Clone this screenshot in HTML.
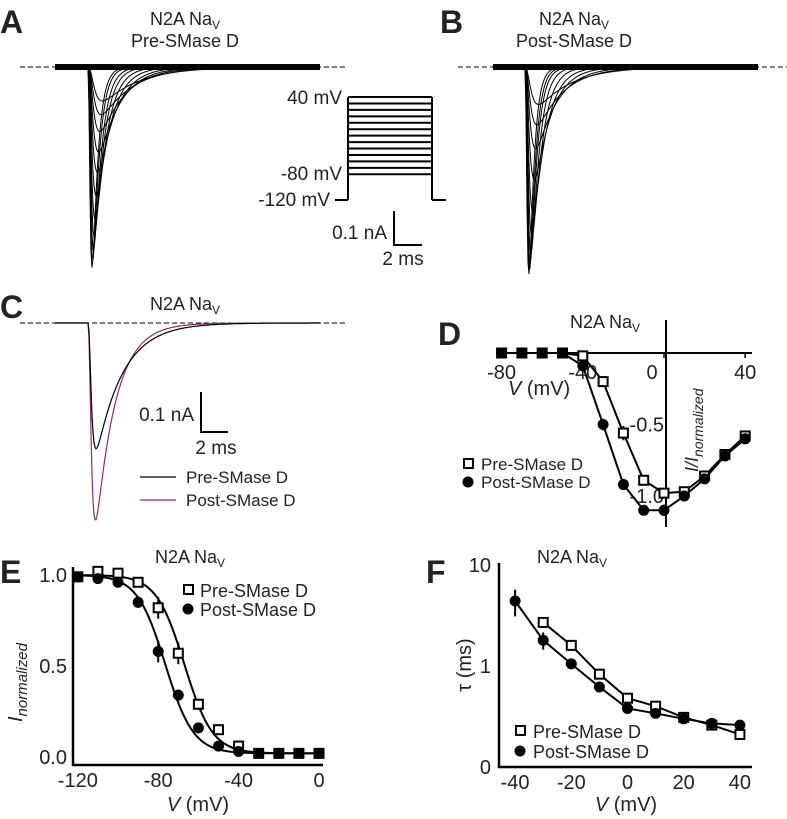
<!DOCTYPE html>
<html><head><meta charset="utf-8">
<style>
html,body{margin:0;padding:0;background:#fff;}
svg{display:block;font-family:"Liberation Sans",Arial,sans-serif;}
text{fill:#222;}
</style></head>
<body>
<svg id="fig" width="787" height="819" viewBox="0 0 787 819">
<g id="gA">
 <text x="0" y="33" font-size="32" font-weight="bold">A</text>
 <text x="185" y="25" font-size="18" text-anchor="middle">N2A Na<tspan font-size="12" dy="4">V</tspan></text>
 <text x="185" y="47" font-size="18" text-anchor="middle">Pre-SMase D</text>
 <line x1="20" y1="67" x2="348" y2="67" stroke="#000" stroke-width="1" stroke-dasharray="5,3"/>
 <g id="protocol"></g>
 <text x="342" y="104" font-size="19" text-anchor="end">40 mV</text>
 <text x="342" y="180" font-size="19" text-anchor="end">-80 mV</text>
 <text x="330" y="206" font-size="19" text-anchor="end">-120 mV</text>
 <path d="M394,211 V245 H422" fill="none" stroke="#000" stroke-width="2"/>
 <text x="387" y="239" font-size="19" text-anchor="end">0.1 nA</text>
 <text x="403" y="265" font-size="19" text-anchor="middle">2 ms</text>
</g>
<g id="gB">
 <text x="440" y="33" font-size="32" font-weight="bold">B</text>
 <text x="574" y="25" font-size="18" text-anchor="middle">N2A Na<tspan font-size="12" dy="4">V</tspan></text>
 <text x="574" y="47" font-size="18" text-anchor="middle">Post-SMase D</text>
 <line x1="458" y1="67" x2="787" y2="67" stroke="#000" stroke-width="1" stroke-dasharray="5,3"/>
</g>
<g id="gC">
 <text x="0" y="318" font-size="32" font-weight="bold">C</text>
 <text x="185" y="310" font-size="18" text-anchor="middle">N2A Na<tspan font-size="12" dy="4">V</tspan></text>
 <line x1="20" y1="323" x2="348" y2="323" stroke="#000" stroke-width="1" stroke-dasharray="5,3"/>
 <path d="M201,392 V432 H228" fill="none" stroke="#000" stroke-width="2"/>
 <text x="194" y="421" font-size="19" text-anchor="end">0.1 nA</text>
 <text x="216" y="454" font-size="19" text-anchor="middle">2 ms</text>
 <line x1="140" y1="477" x2="176" y2="477" stroke="#000" stroke-width="1.3"/>
 <text x="186" y="483" font-size="17">Pre-SMase D</text>
 <line x1="140" y1="500" x2="176" y2="500" stroke="#8e2c72" stroke-width="1.3"/>
 <text x="186" y="506" font-size="17">Post-SMase D</text>
</g>
<g id="gD">
 <text x="438" y="345" font-size="32" font-weight="bold">D</text>
 <text x="605" y="328" font-size="18" text-anchor="middle">N2A Na<tspan font-size="12" dy="4">V</tspan></text>
 <text x="508" y="395" font-size="20"><tspan font-style="italic">V</tspan> (mV)</text>
 <text transform="translate(698,472) rotate(-90)" font-size="18"><tspan font-style="italic">I/I</tspan><tspan font-style="italic" font-size="14" dy="5">normalized</tspan></text>
 <rect x="464" y="459" width="9" height="9" fill="#fff" stroke="#000" stroke-width="2"/>
 <text x="481" y="470" font-size="17">Pre-SMase D</text>
 <circle cx="468" cy="482" r="5.5" fill="#000"/>
 <text x="481" y="488" font-size="17">Post-SMase D</text>
</g>
<g id="gE">
 <text x="0" y="583" font-size="32" font-weight="bold">E</text>
 <text x="190" y="563" font-size="18" text-anchor="middle">N2A Na<tspan font-size="12" dy="4">V</tspan></text>
 <text x="198" y="811" font-size="20" text-anchor="middle"><tspan font-style="italic">V</tspan> (mV)</text>
 <text transform="translate(22,722) rotate(-90)" font-size="20"><tspan font-style="italic">I</tspan><tspan font-style="italic" font-size="15" dy="5">normalized</tspan></text>
 <rect x="184" y="585" width="9" height="9" fill="#fff" stroke="#000" stroke-width="2"/>
 <text x="200" y="597" font-size="18">Pre-SMase D</text>
 <circle cx="188" cy="609" r="5.5" fill="#000"/>
 <text x="200" y="616" font-size="18">Post-SMase D</text>
</g>
<g id="gF">
 <text x="426" y="583" font-size="32" font-weight="bold">F</text>
 <text x="572" y="563" font-size="18" text-anchor="middle">N2A Na<tspan font-size="12" dy="4">V</tspan></text>
 <text x="626" y="811" font-size="20" text-anchor="middle"><tspan font-style="italic">V</tspan> (mV)</text>
 <text transform="translate(471,665) rotate(-90)" font-size="20" text-anchor="middle">τ (ms)</text>
 <rect x="516" y="726" width="9" height="9" fill="#fff" stroke="#000" stroke-width="2"/>
 <text x="533" y="738" font-size="18">Pre-SMase D</text>
 <circle cx="520" cy="751" r="5.5" fill="#000"/>
 <text x="533" y="758" font-size="18">Post-SMase D</text>
</g>
</svg>
<script>
// ---- Panel D data (I-V) ----
const ivVoltages = [-80,-70,-60,-50,-40,-30,-20,-10,0,10,20,30,40];
const ivPre = [0,0,0,0,-0.02,-0.2,-0.56,-0.89,-0.98,-0.97,-0.86,-0.71,-0.58];
const ivPost = [0,0,0,0,-0.09,-0.5,-0.92,-1.1,-1.1,-1.0,-0.88,-0.72,-0.6];
const ivPreErr = [0,0,0,0,0.01,0.02,0.05,0.02,0.02,0.02,0.02,0.02,0.02];
const ivPostErr = [0,0,0,0,0.02,0.04,0.02,0.02,0.04,0.02,0.02,0.02,0.02];
const ivXTicks = [-80,-40,0,40];
const ivYTicks = [-0.5,-1.0];
// ---- Panel E data (inactivation) ----
const inVoltages = [-120,-110,-100,-90,-80,-70,-60,-50,-40,-30,-20,-10,0];
const inPre = [0.99,1.02,1.01,0.96,0.82,0.57,0.29,0.15,0.06,0.02,0.02,0.02,0.02];
const inPost = [0.99,0.98,0.96,0.85,0.58,0.34,0.16,0.06,0.03,0.02,0.02,0.02,0.02];
const inPreErr = [0.01,0.01,0.01,0.01,0.06,0.06,0.02,0.02,0.01,0.01,0.01,0.01,0.01];
const inPostErr = [0.01,0.01,0.01,0.03,0.06,0.03,0.02,0.01,0.01,0.01,0.01,0.01,0.01];
const fitPre = [-67,7.0,0.02];   // V1/2, k, offset
const fitPost = [-76.5,7.0,0.02];
const inXTicks = [-120,-80,-40,0];
const inYTicks = [0,0.5,1.0];
// ---- Panel F data (tau) ----
const tauPreV = [-30,-20,-10,0,10,20,30,40];
const tauPre = [2.7,1.6,0.83,0.48,0.4,0.31,0.26,0.21];
const tauPostV = [-40,-30,-20,-10,0,10,20,30,40];
const tauPost = [4.4,1.8,1.05,0.62,0.38,0.34,0.3,0.27,0.26];
const tauPostErr = [1.3,0.35,0.08,0.05,0.03,0.02,0.02,0.02,0.02];
const tauXTicks = [-40,-20,0,20,40];
const tauYTicks = [0.1,1,10];
const tauYLabels = ["0","1","10"];
// ---- Traces (amplitude in nA, decay tau in ms) ----
const traceAmpA = [0.59,0.57,0.54,0.5,0.45,0.38,0.31,0.25,0.19,0.14,0.1];
const traceTauA = [0.4,0.45,0.55,0.65,0.8,1.0,1.25,1.5,1.8,2.2,2.6];
const traceAmpB = [0.61,0.6,0.58,0.55,0.5,0.43,0.33,0.24,0.17,0.11];
const traceTauB = [0.35,0.4,0.45,0.55,0.7,0.9,1.15,1.5,1.9,2.4];
const traceAmpC = [0.37,0.58];
const traceTauC = [1.9,1.4];
const protocolLevels = [40,30,20,10,0,-10,-20,-30,-40,-50,-60,-70,-80];

const NS="http://www.w3.org/2000/svg";
function mk(tag,attrs,parent){const e=document.createElementNS(NS,tag);for(const k in attrs)e.setAttribute(k,attrs[k]);parent.appendChild(e);return e;}
const gA=document.getElementById('gA'),gB=document.getElementById('gB'),gC=document.getElementById('gC'),gD=document.getElementById('gD'),gE=document.getElementById('gE'),gF=document.getElementById('gF');

const prot=document.getElementById('protocol');
const vY=v=>200-(v+120)*(103/160);
let base=mk('path',{d:`M335,${vY(-120)} H348 M432,${vY(-120)} H446 M348,${vY(-120)} V${vY(40)} M432,${vY(-120)} V${vY(40)}`,fill:'none',stroke:'#000','stroke-width':2},prot);


protocolLevels.forEach(v=>{
 const l=mk('line',{x1:348,x2:432,y1:vY(v),y2:vY(v),stroke:'#000','stroke-width':2},prot);
 
 
});

function tracePath(x0,x1,onset,baseY,amp,tau,riseMs,pxPerNA){
 let d=`M${x0},${baseY}`;
 for(let x=x0;x<=x1;x+=1){
  const t=(x-onset)/14;
  let i=0;
  if(t>0){i=amp*(1-Math.exp(-t/riseMs))**3*Math.exp(-t/tau);}
  d+=` L${x},${(baseY+i*pxPerNA).toFixed(1)}`;
 }
 return d;
}
function norm(amp,tau,rise){
 let m=0;for(let t=0;t<10;t+=0.01){m=Math.max(m,(1-Math.exp(-t/rise))**3*Math.exp(-t/tau));}return amp/m;
}
traceAmpA.forEach((a,i)=>{
 const r=0.12+0.02*i;
 const p=mk('path',{d:tracePath(55,320,88,67,norm(a,traceTauA[i],r),traceTauA[i],r,340),fill:'none',stroke:'#000','stroke-width':1},gA);
 
 
});
const bandA=mk('line',{x1:55,x2:320,y1:67,y2:67,stroke:'#000','stroke-width':6},gA);


traceAmpB.forEach((a,i)=>{
 const r=0.12+0.02*i;
 const p=mk('path',{d:tracePath(493,758,525,67,norm(a,traceTauB[i],r),traceTauB[i],r,340),fill:'none',stroke:'#000','stroke-width':1},gB);
 
 
});
const bandB=mk('line',{x1:493,x2:758,y1:67,y2:67,stroke:'#000','stroke-width':6},gB);


const cColors=['#000','#8e2c72'];
[1,0].forEach(i=>{
 const r=0.16;
 const p=mk('path',{d:tracePath(55,320,88,323,norm(traceAmpC[i],traceTauC[i],r),traceTauC[i],r,340),fill:'none',stroke:cColors[i],'stroke-width':1.2},gC);
 
 
});

function drawSeries(g,xs,ys,errs,sx,sy,kind,name){
 let d='';xs.forEach((x,i)=>{d+=(i?' L':'M')+sx(x)+','+sy(ys[i]);});
 const ln=mk('path',{d:d,fill:'none',stroke:'#000','stroke-width':2},g);
 
 
 xs.forEach((x,i)=>{
  if(errs&&errs[i]>0){
   const yy=ys[i];
   const eb=mk('line',{x1:sx(x),x2:sx(x),y1:sy(yy+errs[i]),y2:sy(yy-errs[i]),stroke:'#000','stroke-width':2},g);
   
   
  }
  let m;
  if(kind==='sq'){m=mk('rect',{x:sx(x)-4.5,y:sy(ys[i])-4.5,width:9,height:9,fill:'#fff',stroke:'#000','stroke-width':2},g);}
  else{m=mk('circle',{cx:sx(x),cy:sy(ys[i]),r:5.5,fill:'#000'},g);}
  
  
 });
}

// Panel D
const dx=v=>664+v*2.03, dy=v=>353-v*143;
const dAx=mk('path',{d:`M500,353 H752 M666,320 V527`,stroke:'#000','stroke-width':2,fill:'none'},gD);


ivXTicks.forEach(v=>{
 const t=mk('text',{x:v===0?dx(v)-12:dx(v),y:379,'font-size':20,'text-anchor':'middle'},gD);t.textContent=v;
 
 
 const tk=mk('line',{x1:dx(v),x2:dx(v),y1:353,y2:358,stroke:'#000','stroke-width':1.5},gD);
 
 
});
ivYTicks.forEach(v=>{
 const t=mk('text',{x:664,y:dy(v)+7,'font-size':20,'text-anchor':'end'},gD);t.textContent=v.toFixed(1);
 
 
});
drawSeries(gD,ivVoltages,ivPre,ivPreErr,dx,v=>dy(v),'sq','iv-pre');
drawSeries(gD,ivVoltages,ivPost,ivPostErr,dx,v=>dy(v),'ci','iv-post');

// Panel E
const ex=v=>319+v*2.01, ey=v=>757-v*182;
const eAx=mk('path',{d:`M73,567 V765 H323`,stroke:'#000','stroke-width':2.5,fill:'none'},gE);


inXTicks.forEach(v=>{
 const t=mk('text',{x:ex(v),y:787,'font-size':20,'text-anchor':'middle'},gE);t.textContent=v;
 
 
});
inYTicks.forEach(v=>{
 const t=mk('text',{x:67,y:ey(v)+7,'font-size':20,'text-anchor':'end'},gE);t.textContent=v.toFixed(1);
 
 
});
[fitPre,fitPost].forEach((f,j)=>{
 let d='';for(let v=-120;v<=0;v+=1){const y=f[2]+(1-f[2])/(1+Math.exp((v-f[0])/f[1]));d+=(v>-120?' L':'M')+ex(v)+','+ey(y).toFixed(1);}
 const p=mk('path',{d:d,fill:'none',stroke:'#000','stroke-width':2},gE);
 
 
});
function pointsOnly(g,xs,ys,errs,sx,sy,kind,name){
 xs.forEach((x,i)=>{
  if(errs&&errs[i]>0){const eb=mk('line',{x1:sx(x),x2:sx(x),y1:sy(ys[i]+errs[i]),y2:sy(ys[i]-errs[i]),stroke:'#000','stroke-width':2},g);
   
   }
  let m;
  if(kind==='sq'){m=mk('rect',{x:sx(x)-4.5,y:sy(ys[i])-4.5,width:9,height:9,fill:'#fff',stroke:'#000','stroke-width':2},g);}
  else{m=mk('circle',{cx:sx(x),cy:sy(ys[i]),r:5.5,fill:'#000'},g);}
  
  
 });
}
pointsOnly(gE,inVoltages,inPre,inPreErr,ex,ey,'sq','inact-pre');
pointsOnly(gE,inVoltages,inPost,inPostErr,ex,ey,'ci','inact-post');

// Panel F (log scale)
const fx=v=>627.5+v*2.81, fy=v=>666-Math.log10(v)*101;
const fAx=mk('path',{d:`M499,563 V767 H752`,stroke:'#000','stroke-width':2.5,fill:'none'},gF);


tauXTicks.forEach(v=>{
 const t=mk('text',{x:fx(v),y:789,'font-size':20,'text-anchor':'middle'},gF);t.textContent=v;
 
 
});
tauYTicks.forEach((v,i)=>{
 const t=mk('text',{x:491,y:fy(v)+7,'font-size':20,'text-anchor':'end'},gF);t.textContent=tauYLabels[i];
 
 
});
drawSeries(gF,tauPreV,tauPre,null,fx,fy,'sq','tau-pre');
(function(){
 let d='';tauPostV.forEach((x,i)=>{d+=(i?' L':'M')+fx(x)+','+fy(tauPost[i]);});
 const ln=mk('path',{d:d,fill:'none',stroke:'#000','stroke-width':2},gF);
 
 
 tauPostV.forEach((x,i)=>{
  const eb=mk('line',{x1:fx(x),x2:fx(x),y1:fy(tauPost[i]+tauPostErr[i]),y2:fy(Math.max(0.05,tauPost[i]-tauPostErr[i])),stroke:'#000','stroke-width':2},gF);
  
  
  const m=mk('circle',{cx:fx(x),cy:fy(tauPost[i]),r:5.5,fill:'#000'},gF);
  
  
 });
})();
</script>
</body></html>
